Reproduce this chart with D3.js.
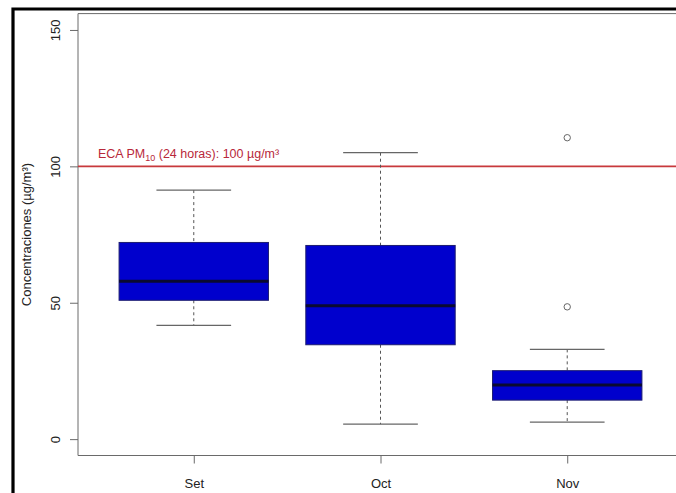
<!DOCTYPE html>
<html>
<head>
<meta charset="utf-8">
<script src="https://cdn.jsdelivr.net/npm/d3@7"></script>
<style>
  html, body { margin: 0; padding: 0; background: #fff; overflow: hidden; }
  svg { display: block; font-family: "Liberation Sans", Arial, sans-serif; }
</style>
</head>
<body>
<svg id="chart" width="676" height="493"></svg>
<script>
// Monthly PM10 concentration summaries (µg/m³)
const months = ["Set", "Oct", "Nov"];
const whiskerLow = [41.7, 5.5, 6.2];
const q1 = [50.9, 34.6, 14.3];
const median = [57.9, 48.9, 19.8];
const q3 = [72.1, 71.0, 25.1];
const whiskerHigh = [91.3, 105.0, 32.9];
const outliers = [[], [], [110.5, 48.5]];
const yTicks = [0, 50, 100, 150];
const limitValue = 100;

const W = 676, H = 493;
const svg = d3.select("#chart");

// Plot region: R-style 4% padding around 0.5..3.5 and 0..150 (right side runs past the canvas)
const x = d3.scaleLinear().domain([0.38, 3.62]).range([78, 683]);
const y = d3.scaleLinear().domain([-6, 156]).range([455.5, 13.6]);
const boxHalf = 0.4;
const capHalf = 0.2;
const frameColor = "#6a6a6a";

// outer black frame (left and top edges)
svg.append("path")
  .attr("d", `M13,${H + 5} V9 H${W + 5}`)
  .attr("fill", "none").attr("stroke", "#000").attr("stroke-width", 3.2);

// plot box
const [px0] = x.range();
const [py1, py0] = y.range();
svg.append("path")
  .attr("d", `M${W + 5},${py0} H${px0} V${py1} H${W + 5}`)
  .attr("fill", "none").attr("stroke", frameColor).attr("stroke-width", 1);

// y axis
const yAxis = d3.axisLeft(y).tickValues(yTicks).tickSize(8).tickPadding(0).tickFormat(d3.format("d"));
const gy = svg.append("g").attr("transform", `translate(${px0},0)`).call(yAxis);
gy.select(".domain").remove();
gy.selectAll(".tick line").attr("stroke", frameColor);
gy.selectAll(".tick text")
  .attr("x", 0).attr("y", 0).attr("dy", 0)
  .attr("text-anchor", "middle")
  .attr("font-size", 13)
  .attr("fill", "#222")
  .attr("transform", "translate(-18,0) rotate(-90)");

// x axis
const xAxis = d3.axisBottom(x).tickValues([1, 2, 3]).tickSize(8).tickPadding(0)
  .tickFormat((d, i) => months[i]);
const gx = svg.append("g").attr("transform", `translate(0,${py1})`).call(xAxis);
gx.select(".domain").remove();
gx.selectAll(".tick line").attr("stroke", frameColor);
gx.selectAll(".tick text")
  .attr("y", 32).attr("dy", 0)
  .attr("font-size", 13)
  .attr("fill", "#222");

// y axis title
svg.append("text")
  .attr("transform", `translate(31,${(py0 + py1) / 2}) rotate(-90)`)
  .attr("text-anchor", "middle")
  .attr("font-size", 13)
  .attr("fill", "#222")
  .text("Concentraciones (µg/m³)");

// 24-hour PM10 standard
svg.append("line")
  .attr("x1", px0).attr("x2", W + 5)
  .attr("y1", y(limitValue)).attr("y2", y(limitValue))
  .attr("stroke", "#c8393c").attr("stroke-width", 1.6);

const lbl = svg.append("text")
  .attr("x", 98).attr("y", y(limitValue) - 8.5)
  .attr("font-size", 12.5)
  .attr("fill", "#b8283a");
lbl.append("tspan").text("ECA PM");
lbl.append("tspan").attr("font-size", 9).attr("dy", 3).text("10");
lbl.append("tspan").attr("dy", -3).text(" (24 horas): 100 µg/m³");

// boxplots
const boxes = svg.append("g");
months.forEach((m, i) => {
  const cx = x(i + 1);
  const g = boxes.append("g");
  // dashed whiskers
  g.append("line")
    .attr("x1", cx).attr("x2", cx)
    .attr("y1", y(whiskerHigh[i])).attr("y2", y(q3[i]))
    .attr("stroke", "#555").attr("stroke-dasharray", "3,3");
  g.append("line")
    .attr("x1", cx).attr("x2", cx)
    .attr("y1", y(q1[i])).attr("y2", y(whiskerLow[i]))
    .attr("stroke", "#555").attr("stroke-dasharray", "3,3");
  // staples
  [whiskerHigh[i], whiskerLow[i]].forEach(v => {
    g.append("line")
      .attr("x1", x(i + 1 - capHalf)).attr("x2", x(i + 1 + capHalf))
      .attr("y1", y(v)).attr("y2", y(v))
      .attr("stroke", "#666").attr("stroke-width", 1.2);
  });
  // box
  g.append("rect")
    .attr("x", x(i + 1 - boxHalf)).attr("width", x(i + 1 + boxHalf) - x(i + 1 - boxHalf))
    .attr("y", y(q3[i])).attr("height", y(q1[i]) - y(q3[i]))
    .attr("fill", "#0000cd").attr("stroke", "#1c1c70").attr("stroke-width", 1);
  // median
  g.append("line")
    .attr("x1", x(i + 1 - boxHalf)).attr("x2", x(i + 1 + boxHalf))
    .attr("y1", y(median[i])).attr("y2", y(median[i]))
    .attr("stroke", "#0a0a30").attr("stroke-width", 3);
  // outliers
  outliers[i].forEach(v => {
    g.append("circle")
      .attr("cx", cx).attr("cy", y(v)).attr("r", 3.2)
      .attr("fill", "none").attr("stroke", "#666").attr("stroke-width", 1);
  });
});
</script>
</body>
</html>
